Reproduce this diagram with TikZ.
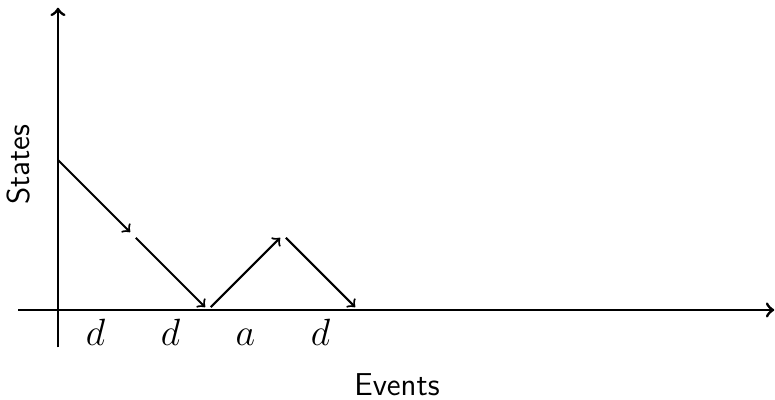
\documentclass[tikz,border=0pt]{standalone}
\begin{document}
\begin{tikzpicture}[x=1cm,y=1cm,
  axis/.style={line width=1.1pt,->},
  trans/.style={line width=0.8pt,->,shorten >=1.5pt,shorten <=1.5pt},
  evlabel/.style={font=\fontsize{14.4}{16}\selectfont,anchor=base,inner sep=0pt},
  axlabel/.style={font=\sffamily\fontsize{12}{14}\selectfont}]
\useasboundingbox (-0.773,-1.187) rectangle (9.56,4.133);
\coordinate (ybot) at (0,-0.5);
\coordinate (ytop) at (0,4.03);
\coordinate (xl) at (-0.53,0);
\coordinate (xr) at (9.55,0);
\draw[axis] (ybot) -- (ytop);
\draw[axis] (xl) -- (xr);
\coordinate (s0) at (0,2);
\coordinate (s1) at (1,1);
\coordinate (s2) at (2,0);
\coordinate (s3) at (3,1);
\coordinate (s4) at (4,0);
\draw[line width=0.8pt,->,shorten >=1.5pt] (s0) -- (s1);
\draw[trans] (s1) -- (s2);
\draw[trans] (s2) -- (s3);
\draw[trans] (s3) -- (s4);
\node[evlabel] (l1) at (0.5,-0.48) {$d$};
\node[evlabel] (l2) at (1.5,-0.48) {$d$};
\node[evlabel] (l3) at (2.5,-0.48) {$a$};
\node[evlabel] (l4) at (3.5,-0.48) {$d$};
\node[axlabel] (ev) at (4.52,-1.0) {Events};
\node[axlabel,rotate=90] (st) at (-0.52,1.94) {States};
\end{tikzpicture}
\end{document}
